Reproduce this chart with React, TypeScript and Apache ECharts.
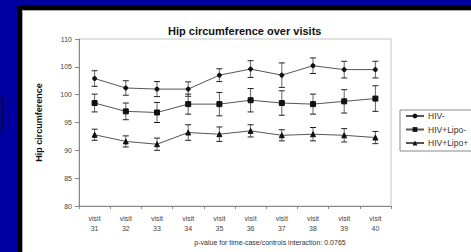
import React, { useEffect, useRef } from "react";
import * as echarts from "echarts";

const categories = ["visit\n31", "visit\n32", "visit\n33", "visit\n34", "visit\n35", "visit\n36", "visit\n37", "visit\n38", "visit\n39", "visit\n40"];
const seriesNames = ["HIV-", "HIV+Lipo-", "HIV+Lipo+"];
const hivNeg = [102.9, 101.2, 101.0, 101.0, 103.5, 104.6, 103.5, 105.2, 104.5, 104.5];
const hivNegErr = [1.4, 1.3, 1.35, 1.3, 1.15, 1.5, 2.2, 1.4, 1.5, 1.5];
const lipoNeg = [98.5, 97.0, 96.8, 98.3, 98.3, 99.0, 98.5, 98.3, 98.8, 99.3];
const lipoNegErr = [1.6, 1.5, 1.8, 1.8, 2.1, 2.1, 2.2, 1.8, 2.1, 2.3];
const lipoPos = [92.8, 91.6, 91.1, 93.2, 92.9, 93.5, 92.7, 92.9, 92.7, 92.3];
const lipoPosErr = [1.0, 1.0, 1.1, 1.4, 1.3, 1.1, 1.0, 1.2, 1.2, 1.1];
const yTicks = { min: 80, max: 110, interval: 5 };
const titleText = "Hip circumference over visits";
const yName = "Hip circumference";
const xName = "p-value for time-case/controls interaction: 0.0765";

const FONT = "Liberation Sans";

function errData(vals: number[], errs: number[]) {
  return vals.map((v, i) => [i, v - errs[i], v + errs[i]]);
}

function errSeries(vals: number[], errs: number[]) {
  return {
    type: "custom",
    name: "err",
    z: 1,
    silent: true,
    encode: { x: 0, y: [1, 2] },
    data: errData(vals, errs),
    renderItem: (params: any, api: any) => {
      const lo = api.coord([api.value(0), api.value(1)]);
      const hi = api.coord([api.value(0), api.value(2)]);
      const hw = 3;
      return {
        type: "group",
        children: [
          { type: "line", shape: { x1: lo[0], y1: lo[1], x2: hi[0], y2: hi[1] }, style: { stroke: "#666", lineWidth: 1 } },
          { type: "line", shape: { x1: lo[0] - hw, y1: lo[1], x2: lo[0] + hw, y2: lo[1] }, style: { stroke: "#222", lineWidth: 1 } },
          { type: "line", shape: { x1: hi[0] - hw, y1: hi[1], x2: hi[0] + hw, y2: hi[1] }, style: { stroke: "#222", lineWidth: 1 } },
        ],
      };
    },
  };
}

function lineSeries(name: string, vals: number[], symbol: string, size: number) {
  return {
    type: "line",
    name,
    data: vals,
    z: 3,
    symbol,
    symbolSize: size,
    showSymbol: true,
    lineStyle: { color: "#555", width: 1 },
    itemStyle: { color: "#111", borderColor: "#111" },
  };
}

export default function App() {
  const ref = useRef<HTMLDivElement>(null);
  useEffect(() => {
    if (!ref.current) return;
    const chart = echarts.init(ref.current, undefined, { renderer: "svg" });
    chart.setOption({
      animation: false,
      backgroundColor: "transparent",
      textStyle: { fontFamily: FONT },
      title: {
        text: titleText,
        left: 163,
        top: 20,
        textStyle: { fontFamily: FONT, fontSize: 11, fontWeight: "bold", color: "#111" },
      },
      grid: {
        left: 79,
        right: 80,
        top: 39,
        bottom: 46,
        show: true,
        borderColor: "#c4c4c4",
        borderWidth: 1,
        backgroundColor: "transparent",
      },
      legend: {
        orient: "vertical",
        left: 400,
        top: 110,
        data: seriesNames,
        padding: [1, 60, 3, 5],
        itemWidth: 18,
        itemHeight: 6,
        itemGap: 3.5,
        borderColor: "#888",
        borderWidth: 1,
        backgroundColor: "#fff",
        textStyle: { fontFamily: FONT, fontSize: 8.5, color: "#333", lineHeight: 10, padding: [0, 0, 0, -1] },
      },
      xAxis: {
        type: "category",
        data: categories,
        boundaryGap: true,
        axisLine: { lineStyle: { color: "#888" } },
        axisTick: { show: true, length: 3, lineStyle: { color: "#888" } },
        axisLabel: { fontFamily: FONT, fontSize: 7, color: "#444", lineHeight: 10, margin: 7, interval: 0 },
        splitLine: { show: false },
      },
      yAxis: {
        type: "value",
        min: yTicks.min,
        max: yTicks.max,
        interval: yTicks.interval,
        name: yName,
        nameLocation: "middle",
        nameGap: 36,
        nameTextStyle: { fontFamily: FONT, fontSize: 9, fontWeight: "bold", color: "#111" },
        axisLine: { show: true, lineStyle: { color: "#888" } },
        axisTick: { show: true, length: 4, lineStyle: { color: "#888" } },
        axisLabel: { fontFamily: FONT, fontSize: 7, color: "#444", margin: 7 },
        splitLine: { show: false },
      },
      graphic: [
        {
          type: "text",
          x: 270,
          y: 242,
          style: {
            text: xName,
            fontFamily: FONT,
            fontSize: 7,
            fill: "#333",
            textAlign: "center",
            textVerticalAlign: "middle",
          },
        },
      ],
      series: [
        errSeries(hivNeg, hivNegErr),
        errSeries(lipoNeg, lipoNegErr),
        errSeries(lipoPos, lipoPosErr),
        lineSeries(seriesNames[0], hivNeg, "circle", 4),
        lineSeries(seriesNames[1], lipoNeg, "rect", 5),
        lineSeries(seriesNames[2], lipoPos, "triangle", 5),
      ],
    });
    return () => chart.dispose();
  }, []);

  return (
    <div style={{ position: "fixed", left: 0, top: 0, width: 471, height: 252, overflow: "hidden", background: "#0000a0" }}>
      <div style={{ position: "absolute", left: -10, top: 98, width: 11, height: 32, border: "1px solid #000040" }} />
      <div style={{ position: "absolute", left: 17, top: 5, right: -10, bottom: -10, background: "#000" }} />
      <div style={{ position: "absolute", left: 22, top: 10, right: -10, bottom: -10, background: "#fff", borderTop: "1px solid #aaa", borderLeft: "1px solid #aaa" }} />
      <div ref={ref} style={{ position: "absolute", left: 0, top: 0, width: 471, height: 252 }} />
    </div>
  );
}
